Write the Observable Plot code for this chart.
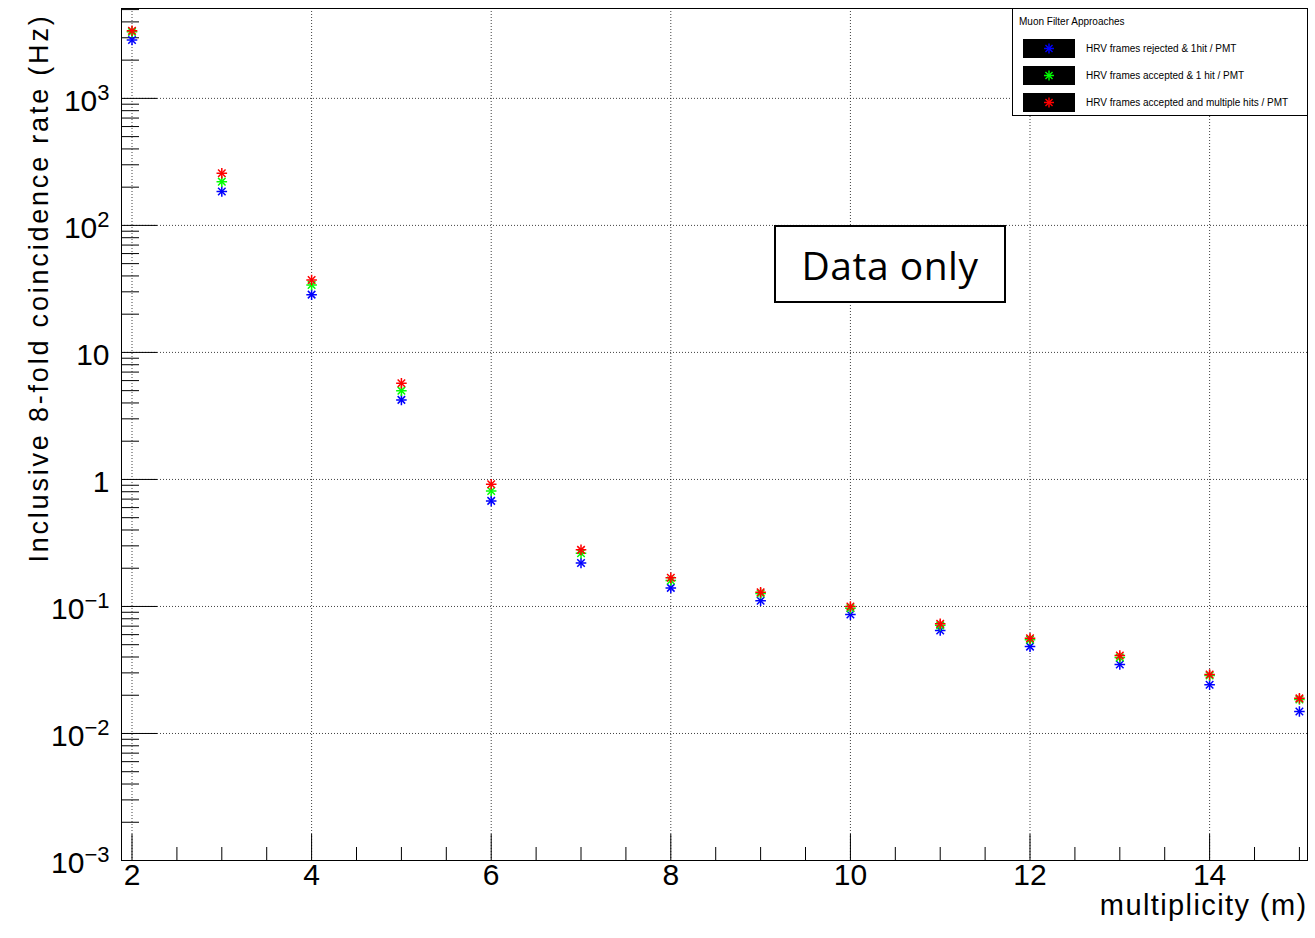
<!DOCTYPE html>
<html><head><meta charset="utf-8">
<script src="https://cdn.jsdelivr.net/npm/d3@7"></script>
<script src="https://cdn.jsdelivr.net/npm/@observablehq/plot@0.6"></script>
<style>
body{margin:0;background:#fff;font-family:"Liberation Sans",Arial,sans-serif;}
#wrap{position:relative;width:1315px;height:938px;overflow:hidden;}
#legend{position:absolute;left:1012px;top:8px;width:294px;height:106px;border:1px solid #000;background:#fff;font-size:10px;color:#000;}
#legend .ttl{position:absolute;left:6px;top:7px;white-space:nowrap;}
#legend .row{position:absolute;left:10px;height:19px;display:flex;align-items:center;white-space:nowrap;}
#legend .row svg{display:block;margin-right:11px;}
#note{position:absolute;left:774px;top:225px;width:228px;height:74px;border:2px solid #000;background:#fff;display:flex;align-items:center;justify-content:center;font-family:"Open Sans",sans-serif;font-size:39px;letter-spacing:0.5px;color:#000;}
</style></head><body><div id="wrap"></div><script>
const multiplicity = [2,3,4,5,6,7,8,9,10,11,12,13,14,15];
const rejected1hit  = [2880,185,28.5,4.23,0.678,0.220,0.140,0.111,0.0863,0.0646,0.0483,0.0349,0.0242,0.0149];
const accepted1hit  = [3340,221,34.0,5.00,0.812,0.262,0.160,0.1265,0.097,0.071,0.0548,0.0396,0.0286,0.0185];
const acceptedMulti = [3410,257,37.2,5.71,0.916,0.279,0.168,0.1294,0.0998,0.0730,0.0562,0.0411,0.0291,0.0189];
const seriesNames = ["HRV frames rejected & 1hit / PMT","HRV frames accepted & 1 hit / PMT","HRV frames accepted and multiple hits / PMT"];
const seriesColors = ["#0000ff","#00ff00","#ff0000"];
const xTickValues = [2,4,6,8,10,12,14];
const xTickLabels = ["2","4","6","8","10","12","14"];
const yTickValues = [1e-3,1e-2,1e-1,1,10,100,1000];
const yTickBases = ["10","10","10","1","10","10","10"];
const yTickExponents = ["\u22123","\u22122","\u22121","","","2","3"];
const xTitle = "multiplicity (m)";
const yTitle = "Inclusive 8-fold coincidence rate (Hz)";
const legendTitle = "Muon Filter Approaches";
const annotation = "Data only";

const W = 1315, H = 938, mL = 121, mT = 8, mR = 8, mB = 78;
const frameW = W - mL - mR, frameH = H - mT - mB;

const seriesValues = [rejected1hit, accepted1hit, acceptedMulti];
const table = [];
seriesValues.forEach((vals, si) => {
  multiplicity.forEach((m, i) => {
    for (const sym of ["plus","times"]) table.push({m, v: vals[i], s: seriesNames[si], sym});
  });
});

const xMinor = d3.range(2, 15.01, 0.5).filter(v => !xTickValues.includes(v));
const yMinor = [];
for (let e = -3; e <= 3; e++) for (let k = 2; k <= 9; k++) { const v = k * Math.pow(10, e); if (v <= 5100) yMinor.push(v); }

const grid = {stroke: "#000", strokeOpacity: 0.75, strokeDasharray: "1,2", strokeWidth: 1};

const svg = Plot.plot({
  width: W, height: H,
  marginLeft: mL, marginTop: mT, marginRight: mR, marginBottom: mB,
  style: {fontFamily: "Liberation Sans, Arial, sans-serif", background: "white", color: "#000"},
  x: {domain: [1.883, 15.09], axis: null},
  y: {type: "log", domain: [1e-3, 5100], axis: null},
  color: {domain: seriesNames, range: seriesColors},
  symbol: {domain: ["plus","times"], range: ["plus","times"]},
  marks: [
    Plot.ruleX(xTickValues, {x: d => d, ...grid}),
    Plot.ruleY(yTickValues.filter(v => v > 1e-3), {y: d => d, ...grid}),
    Plot.tickX(xMinor, {x: d => d, stroke: "#000", insetTop: frameH - 13}),
    Plot.tickX(xTickValues, {x: d => d, stroke: "#000", insetTop: frameH - 26}),
    Plot.tickY(yMinor, {y: d => d, stroke: "#000", insetRight: frameW - 18}),
    Plot.tickY(yTickValues, {y: d => d, stroke: "#000", insetRight: frameW - 36}),
    Plot.frame({stroke: "#000"}),
    Plot.dot(table, {x: "m", y: "v", stroke: "s", symbol: "sym", r: 3.5, strokeWidth: 1.5}),
    Plot.text(xTickValues, {x: d => d, text: (d, i) => xTickLabels[i], frameAnchor: "bottom", dy: 24, fontSize: 30, fill: "#000"}),
    Plot.text(yTickValues, {y: d => d, text: (d, i) => yTickBases[i] + (yTickExponents[i] ? "^" + yTickExponents[i] : ""), frameAnchor: "left", textAnchor: "end", dx: -12, dy: 3, fontSize: 30, fill: "#000"}),
    Plot.text([xTitle], {text: d => d, frameAnchor: "bottom-right", textAnchor: "end", dy: 54, fontSize: 29, fill: "#000"}),
    Plot.text([yTitle], {text: d => d, frameAnchor: "top-left", rotate: -90, textAnchor: "end", lineAnchor: "top", dx: -93, dy: 5, fontSize: 27, fill: "#000"})
  ]
});

d3.select(svg).selectAll("text").each(function () {
  const txt = this.textContent;
  if (txt.includes("^")) {
    const parts = txt.split("^");
    this.textContent = parts[0];
    d3.select(this).append("tspan").attr("font-size", 22).attr("dy", -11).text(parts[1]);
  } else if (txt === xTitle) {
    this.style.letterSpacing = "1.4px";
  } else if (txt === yTitle) {
    this.style.letterSpacing = "2.8px";
  }
});

const wrap = document.getElementById("wrap");
wrap.appendChild(svg);

// legend
const legend = document.createElement("div");
legend.id = "legend";
const ttl = document.createElement("div");
ttl.className = "ttl"; ttl.textContent = legendTitle;
legend.appendChild(ttl);
seriesNames.forEach((name, i) => {
  const row = document.createElement("div");
  row.className = "row";
  row.style.top = (30 + i * 27) + "px";
  const s = d3.create("svg").attr("width", 52).attr("height", 19);
  s.append("rect").attr("width", 52).attr("height", 19).attr("fill", "#000");
  for (const t of [d3.symbolPlus, d3.symbolTimes]) {
    s.append("path").attr("d", d3.symbol(t, Math.PI * 3.3 * 3.3)()).attr("transform", "translate(26,9.5)")
      .attr("fill", "none").attr("stroke", seriesColors[i]).attr("stroke-width", 1.4);
  }
  row.appendChild(s.node());
  const lab = document.createElement("span");
  lab.textContent = name;
  row.appendChild(lab);
  legend.appendChild(row);
});
wrap.appendChild(legend);

const note = document.createElement("div");
note.id = "note"; note.textContent = annotation;
wrap.appendChild(note);
</script></body></html>
